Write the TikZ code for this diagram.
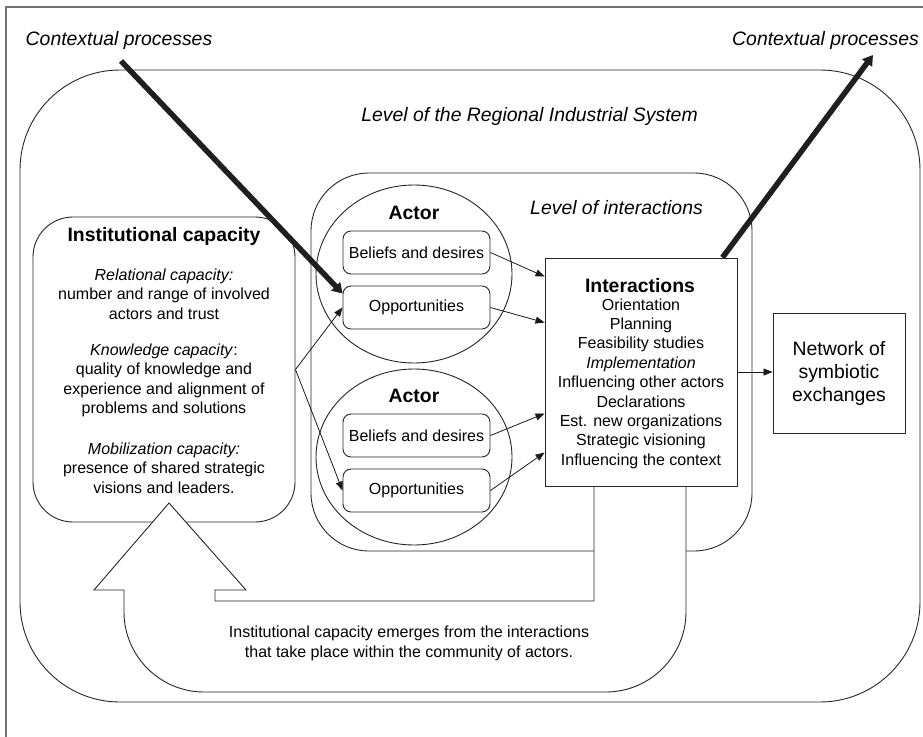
\documentclass[tikz,border=0pt]{standalone}
\usepackage{fontspec}
\setmainfont{Liberation Sans}
\usetikzlibrary{shapes.geometric,arrows.meta}

\begin{document}
\begin{tikzpicture}[x=1pt,y=-1pt,
  big/.style={font=\fontsize{19.4}{23}\selectfont},
  bigit/.style={font=\fontsize{19.4}{23}\selectfont\itshape},
  bigbf/.style={font=\fontsize{19.4}{23}\selectfont\bfseries},
  small/.style={font=\fontsize{16}{19.3}\selectfont},
  lbl/.style={inner sep=0pt, align=center},
  line/.style={draw=black!85, line width=0.9pt},
  panel/.style={line, rectangle, inner sep=0pt},
  subbox/.style={panel, rounded corners=8pt, fill=white, minimum width=147pt, minimum height=43pt, small},
  actor/.style={line, ellipse, fill=white, inner sep=0pt, minimum width=196pt},
  flow/.style={line width=0.8pt, black!90, -{Triangle[length=9pt,width=7pt]}},
  heavy/.style={line width=5.5pt, black!88, -{Triangle[length=10pt,width=12pt]}}
]
\useasboundingbox (0,0) rectangle (923,736);
\clip (0,0) rectangle (923,736);

% page frame
\draw[black!55, line width=1.8pt] (6,7) rectangle (940,760);

% level of the regional industrial system
\node[panel, rounded corners=100pt, minimum width=900pt, minimum height=632pt] (ris) at (470,386) {};
\node[bigit, anchor=base] (risl) at (529.5,121) {Level of the Regional Industrial System};

% level of interactions
\node[panel, rounded corners=58pt, minimum width=441pt, minimum height=378pt] (lev) at (531.5,362) {};
\node[bigit, anchor=base] (levl) at (616.5,214) {Level of interactions};

% institutional capacity
\node[panel, fill=white, rounded corners=40pt, minimum width=262pt, minimum height=305pt] (inst) at (164,369.5) {};
\node[bigbf, anchor=base] (instt) at (164,241) {Institutional capacity};
\node[small, lbl] (rel) at (164,294) {\textit{Relational capacity:}\\number and range of involved\\actors and trust};
\node[small, lbl] (know) at (164,380.5) {\textit{Knowledge capacity}:\\quality of knowledge and\\experience and alignment of\\problems and solutions};
\node[small, lbl] (mob) at (164,468) {\textit{Mobilization capacity:}\\presence of shared strategic\\visions and leaders.};

% actors
\node[actor, minimum height=178pt] (actor1) at (414,274) {};
\node[actor, minimum height=176pt] (actor2) at (414,457) {};
\node[bigbf, anchor=base] (a1l) at (414,219) {Actor};
\node[bigbf, anchor=base] (a2l) at (414,402) {Actor};
\node[subbox] (bd1) at (416.5,252.5) {Beliefs and desires};
\node[subbox] (op1) at (416.5,307.5) {Opportunities};
\node[subbox] (bd2) at (416.5,435.5) {Beliefs and desires};
\node[subbox] (op2) at (416.5,490.5) {Opportunities};

% feedback arrow from the interactions back to institutional capacity
\draw[line, fill=white, line join=miter]
  (169,503) -- (246,590) -- (215,590) -- (215,601) -- (594,601) -- (594,486)
  -- (686,486) -- (686,612) .. controls (686,656) and (650,692) .. (606,692)
  -- (204,692) .. controls (160,692) and (124,656) .. (124,612)
  -- (124,590) -- (94,590) -- cycle;
\node[small, lbl] (emerge) at (409,643.5) {Institutional capacity emerges from the interactions\\that take place within the community of actors.};

% interactions
\node[panel, fill=white, minimum width=192pt, minimum height=228pt] (inter) at (641,372) {};
\node[bigbf, anchor=base] (intert) at (640,292) {Interactions};
\node[lbl, font=\fontsize{16}{19.4}\selectfont] (interl) at (641,383.5) {Orientation\\Planning\\Feasibility studies\\\textit{Implementation}\\Influencing other actors\\Declarations\\Est. new organizations\\Strategic visioning\\Influencing the context};

% outcome
\node[panel, fill=white, big, align=center, minimum width=132pt, minimum height=120pt] (net) at (839,373) {Network of\\symbiotic\\exchanges};

% connectors
\draw[flow] (inst.east) -- (op1.west);
\draw[flow] (inst.east) -- (op2.west);
\draw[flow] (bd1.east) -- ([yshift=-19pt]inter.north west);
\draw[flow] (op1.east) -- ([yshift=-65pt]inter.north west);
\draw[flow] (bd2.east) -- ([yshift=-156pt]inter.north west);
\draw[flow] (op2.east) -- ([yshift=-195pt]inter.north west);
\draw[flow] (inter.east) -- (inter.east -| net.west);

% contextual processes
\coordinate (ctxin) at (121,61);
\coordinate (ctxout) at (873,55);
\node[bigit, anchor=base] (ctxl) at (119,45) {Contextual processes};
\node[bigit, anchor=base] (ctxr) at (825.5,45) {Contextual processes};
\draw[heavy] (ctxin) -- ([yshift=14pt]op1.west);
\draw[heavy] ([xshift=-15pt]inter.north east) -- (ctxout);
\end{tikzpicture}
\end{document}
